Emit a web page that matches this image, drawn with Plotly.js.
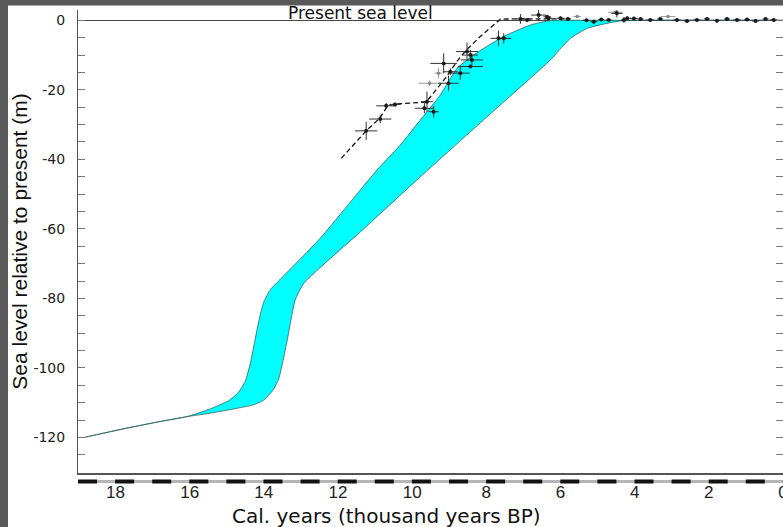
<!DOCTYPE html>
<html><head><meta charset="utf-8">
<script src="https://cdn.plot.ly/plotly-3.0.1.min.js"></script>
<style>
html,body{margin:0;padding:0;background:#595959;overflow:hidden;width:783px;height:527px}
#chart{position:absolute;left:8px;top:0px;width:790px;height:527px;background:#fff}
</style>
</head><body><div id="chart"></div>
<script>
// Envelope of modelled sea level (upper and lower boundary), time in kyr BP, level in m
const upperT = [18.82, 17.70, 16.80, 16.08, 15.45, 14.95, 14.70, 14.50, 14.36, 14.24, 14.12, 14.00, 13.82, 13.50, 12.48, 10.95, 10.32, 9.78, 9.24, 8.79, 8.22, 7.54, 6.81, 6.27, 5.87, 0];
const upperY = [-119.9, -117.3, -115.4, -114.0, -111.8, -109.4, -107.2, -103.8, -98.5, -92.1, -85.8, -81.0, -77.4, -73.9, -62.7, -43.1, -35.9, -28.7, -21.5, -13.8, -9.1, -4.7, -1.35, -0.05, 0, 0];
const lowerT = [18.82, 17.70, 16.80, 16.08, 15.45, 14.73, 14.28, 14.01, 13.76, 13.60, 13.48, 13.37, 13.26, 13.15, 12.92, 11.40, 9.87, 8.08, 6.27, 6.09, 5.73, 5.28, 4.75, 4.38, 3.84, 0];
const lowerY = [-119.9, -117.3, -115.4, -114.0, -113.0, -111.6, -110.6, -109.3, -106.5, -103.2, -97.8, -92.1, -85.7, -80.3, -75.6, -60.9, -45.9, -28.7, -11.4, -9.2, -5.2, -2.3, -0.9, -0.2, 0, 0];

// Dashed fitted curve through the data
const fitT = [11.91, 11.24, 10.88, 10.66, 10.48, 9.62, 9.40, 9.08, 8.77, 8.54, 8.18, 7.62, 7.30, 5.73];
const fitY = [-39.7, -31.8, -28.2, -24.6, -24.1, -23.5, -20.6, -16.3, -11.5, -8.6, -4.8, 0.3, 0.4, 0.4];

// Sea-level index points (dark) with errors
const ptT  = [11.24, 10.86, 10.70, 10.46, 9.60, 9.67, 9.42, 9.02, 9.15, 8.97, 8.70, 8.52, 8.43, 8.39, 8.43, 7.67, 7.53, 7.08, 6.59, 6.90, 6.32, 6.36, 6.00, 5.80, 5.30, 5.10, 4.90, 4.70, 4.48, 4.29, 4.20, 4.02, 3.84, 3.58, 3.31, 2.86, 2.59, 2.32, 2.05, 1.78, 1.51, 1.24, 0.97, 0.74, 0.47, 0.25];
const ptY  = [-31.8, -28.4, -24.6, -24.2, -23.4, -25.3, -26.3, -18.1, -12.4, -14.8, -15.2, -9.0, -10.0, -11.4, -13.3, -5.2, -5.2, 0.4, 1.5, 0.1, 0.6, 1.0, 0.6, 0.4, 0.0, -0.4, 0.2, 0.1, 2.0, 0.1, 0.6, 0.5, 0.4, 0.1, 0.4, 0.1, -0.2, 0.1, 0.4, -0.1, 0.4, 0.1, 0.2, -0.2, 0.4, 0.1];
const ptEt = [0.30, 0.30, 0.27, 0.15, 0.16, 0.25, 0.14, 0.27, 0.36, 0.20, 0.25, 0.30, 0.20, 0.30, 0.34, 0.22, 0.20, 0.14, 0.20, 0.10, 0.10, 0.10, 0.10, 0.08, 0.10, 0.10, 0.08, 0.08, 0.15, 0.08, 0.10, 0.10, 0.08, 0.10, 0.08, 0.10, 0.08, 0.10, 0.08, 0.10, 0.08, 0.10, 0.08, 0.10, 0.08, 0.10];
const ptEy = [2.6, 1.2, 0.8, 0.5, 2.9, 1.5, 1.7, 2.2, 2.9, 1.0, 1.9, 2.6, 1.5, 1.8, 0.5, 2.2, 1.5, 1.4, 1.8, 0.5, 0.6, 0.5, 0.5, 0.4, 0.4, 0.6, 0.4, 0.4, 1.2, 0.8, 0.5, 0.5, 0.4, 0.5, 0.4, 0.5, 0.4, 0.5, 0.4, 0.5, 0.4, 0.5, 0.4, 0.5, 0.4, 0.5];

// Lighter (grey) index points
const grT  = [9.53, 9.29, 5.55, 4.52, 3.10];
const grY  = [-18.1, -15.2, 1.1, 2.3, 1.1];
const grEt = [0.30, 0.10, 0.10, 0.20, 0.20];
const grEy = [0.8, 1.5, 0.3, 0.3, 0.3];

const xTicks = [18, 16, 14, 12, 10, 8, 6, 4, 2, 0];
const yTicks = [0, -20, -40, -60, -80, -100, -120];

const bandX = upperT.concat(lowerT.slice().reverse());
const bandY = upperY.concat(lowerY.slice().reverse());

const traces = [
  {x: bandX, y: bandY, type: 'scatter', mode: 'lines', fill: 'toself',
   fillcolor: '#00ffff', line: {color: '#2f5f5f', width: 0.8, shape: 'spline', smoothing: 0.5}, hoverinfo: 'skip'},
  {x: fitT, y: fitY, type: 'scatter', mode: 'lines',
   line: {color: '#111', width: 1.3, dash: '5px,3px'}},
  {x: grT, y: grY, type: 'scatter', mode: 'markers',
   marker: {size: 3.5, color: '#888'},
   error_x: {type: 'data', array: grEt, visible: true, color: '#999', thickness: 1, width: 0},
   error_y: {type: 'data', array: grEy, visible: true, color: '#999', thickness: 1, width: 0}},
  {x: ptT, y: ptY, type: 'scatter', mode: 'markers',
   marker: {size: 4, color: '#1a1a1a'},
   error_x: {type: 'data', array: ptEt, visible: true, color: '#333', thickness: 1, width: 0},
   error_y: {type: 'data', array: ptEy, visible: true, color: '#333', thickness: 1, width: 0}}
];

const sansFont = 'Liberation Sans, Arial, Helvetica, sans-serif';
const wideFont = 'DejaVu Sans, Verdana, sans-serif';
const layout = {
  width: 790, height: 527,
  margin: {l: 70, r: 15, t: 10, b: 54},
  paper_bgcolor: '#ffffff', plot_bgcolor: '#ffffff',
  showlegend: false,
  font: {family: sansFont, color: '#111'},
  xaxis: {
    range: [19.01, 0], tickvals: xTicks, ticktext: xTicks.map(String),
    ticks: '', showline: true, linecolor: '#555', linewidth: 1.5,
    showgrid: false, zeroline: false, ticklabelstandoff: 3,
    tickfont: {family: 'Liberation Sans Narrow, Arial Narrow, ' + sansFont, size: 17, color: '#222'}
  },
  yaxis: {
    range: [-130.2, 2.96], tickvals: yTicks, ticktext: yTicks.map(String),
    ticks: 'inside', ticklen: 7, tickcolor: '#777', tickwidth: 1,
    minor: {dtick: 5, tick0: 0, ticks: 'inside', ticklen: 7, tickcolor: '#777', tickwidth: 1},
    showline: true, linecolor: '#555', linewidth: 1, mirror: 'ticks',
    zeroline: true, zerolinecolor: '#444', zerolinewidth: 1.5, showgrid: false,
    ticklabelstandoff: 9,
    tickfont: {family: wideFont, size: 14, color: '#222'},
    title: {text: 'Sea level relative to present (m)', font: {family: sansFont, size: 21, color: '#111'}, standoff: 0}
  },
  shapes: [
    // dark frame strip along the top of the picture
    {type: 'rect', xref: 'paper', yref: 'paper', x0: -0.2, x1: 1.2, y0: 1.0097, y1: 1.05,
     layer: 'below', line: {width: 0}, fillcolor: '#595959'},
    {type: 'line', xref: 'paper', yref: 'paper', x0: 0, x1: 1, y0: -0.0184, y1: -0.0184,
     line: {color: '#b5b5b5', width: 3}},
    {type: 'line', xref: 'paper', yref: 'paper', x0: 0, x1: 1, y0: -0.0184, y1: -0.0184,
     line: {color: '#111', width: 4, dash: '19px,18.1px'}}
  ],
  annotations: [
    {text: 'Present sea level', xref: 'paper', yref: 'paper', x: 0.4, y: 0.9946,
     xanchor: 'center', yanchor: 'middle', showarrow: false,
     font: {family: wideFont, size: 17, color: '#111'}},
    {text: 'Cal. years (thousand years BP)', xref: 'paper', yref: 'paper', x: 0.438, y: -0.0929,
     xanchor: 'center', yanchor: 'middle', showarrow: false,
     font: {family: wideFont, size: 20, color: '#111'}}
  ]
};

Plotly.newPlot('chart', traces, layout, {displayModeBar: false, staticPlot: true});
</script>
</body></html>
